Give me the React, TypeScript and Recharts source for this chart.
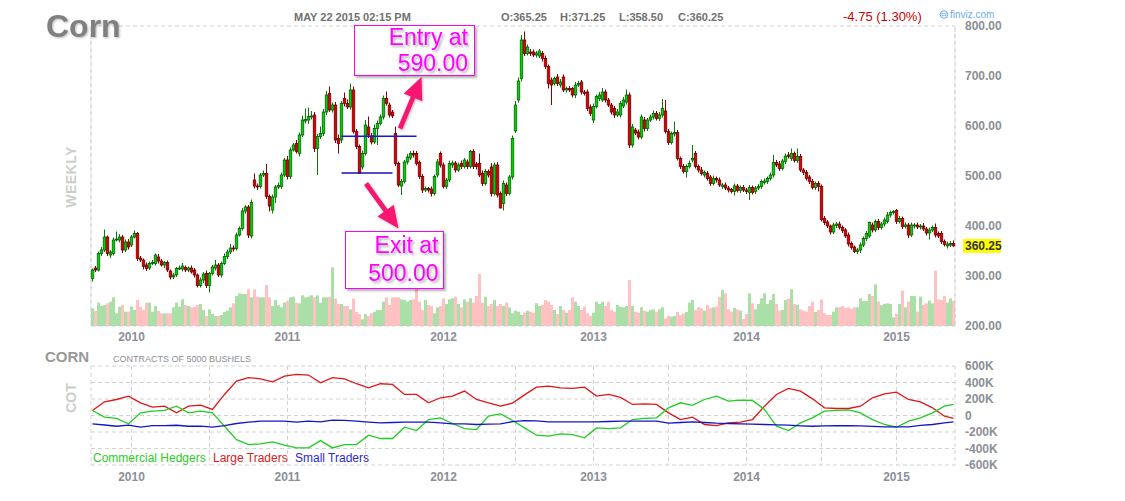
import React from 'react';
import { ComposedChart, Bar, Line, XAxis, YAxis, CartesianGrid, ReferenceLine } from 'recharts';

const FONT = "'Liberation Sans', Arial, sans-serif";

// weekly corn candles, late Sep 2009 .. May 22 2015
const opens = [
  295, 316, 312, 345, 352, 378, 342, 345, 372, 372,
  378, 352, 368, 362, 378, 385, 336, 332, 322, 316,
  325, 325, 338, 330, 322, 327, 310, 298, 302, 315,
  314, 317, 312, 316, 312, 302, 281, 292, 305, 281,
  305, 316, 322, 302, 325, 339, 348, 356, 355, 382,
  395, 430, 438, 380, 492, 480, 479, 502, 505, 459,
  432, 458, 478, 479, 502, 532, 499, 552, 565, 545,
  582, 610, 612, 619, 622, 555, 579, 585, 628, 665,
  632, 642, 575, 572, 655, 645, 638, 672, 589, 559,
  518, 545, 598, 580, 568, 595,
  605, 618, 655, 642, 628, 585, 525, 480, 489, 528,
  536, 545, 545, 527, 499, 472, 475, 474, 465, 502,
  545, 522, 479, 492, 522, 526, 512, 525, 519, 528,
  519, 549, 524, 525, 505, 485, 509, 518, 465, 522,
  465, 445, 482, 465, 498, 590, 652, 695, 772, 745,
  748, 748, 742, 740, 745, 735, 719, 692, 685, 698,
  682, 698, 672, 675, 675, 662, 682, 688, 668, 668,
  638, 612, 639, 655, 652, 668, 652, 642, 635, 622,
  622, 640, 648, 662, 562, 592, 588, 578, 612, 595,
  612, 618, 625, 615, 622,
  630, 589, 567, 584, 587, 535, 519, 509, 519, 532,
  545, 519, 512, 502, 505, 498, 485, 495, 492, 479,
  482, 476, 473, 469, 480, 471, 477, 472, 467, 477,
  469, 476, 479, 487, 489, 495, 502, 527, 524, 515,
  529, 542, 535, 545, 531, 539, 512, 507, 498, 489,
  477, 485, 479, 415, 408, 400, 388, 401, 404, 397,
  392, 382, 365, 358, 349, 352, 362, 375, 380, 402,
  392, 409, 397, 404, 409, 422, 427, 431, 409, 415,
  399, 402, 382, 400, 402, 398, 400, 394, 386, 392,
  397, 385, 385, 369, 360, 362, 365.25,
];

const closes = [
  312, 312, 345, 352, 378, 345, 348, 372, 374, 378,
  352, 368, 358, 378, 385, 335, 332, 319, 315, 325,
  327, 342, 330, 322, 327, 312, 298, 302, 315, 316,
  320, 312, 316, 308, 302, 281, 292, 304, 281, 305,
  318, 322, 302, 325, 339, 348, 356, 355, 382, 395,
  430, 438, 382, 447, 480, 478, 502, 505, 459, 440,
  458, 478, 481, 502, 532, 499, 552, 562, 549, 582,
  612, 613, 619, 620, 555, 579, 585, 628, 662, 632,
  642, 572, 565, 645, 645, 638, 672, 589, 559, 505,
  545, 602, 582, 568, 595, 605,
  618, 655, 645, 622, 620, 525, 482, 489, 528, 538,
  545, 542, 525, 499, 472, 475, 472, 465, 499, 528,
  522, 479, 492, 525, 526, 512, 522, 519, 532, 519,
  549, 519, 519, 502, 485, 509, 502, 465, 522, 462,
  436, 485, 465, 498, 575, 642, 690, 772, 745, 758,
  745, 742, 746, 750, 735, 719, 685, 682, 695, 685,
  688, 672, 675, 672, 662, 682, 685, 668, 665, 635,
  625, 639, 659, 662, 668, 652, 642, 628, 622, 628,
  645, 652, 662, 562, 598, 586, 578, 618, 595, 612,
  618, 625, 615, 622, 635,
  589, 567, 585, 587, 535, 519, 509, 519, 525, 535,
  519, 512, 505, 507, 495, 485, 495, 492, 482, 482,
  476, 472, 469, 480, 471, 477, 472, 469, 477, 467,
  476, 479, 489, 490, 495, 502, 527, 522, 515, 530,
  540, 539, 545, 531, 539, 512, 507, 495, 489, 477,
  485, 479, 413, 407, 400, 388, 402, 404, 397, 391,
  380, 364, 357, 349, 352, 362, 375, 385, 407, 392,
  409, 397, 404, 412, 422, 427, 429, 409, 415, 399,
  402, 382, 402, 402, 398, 400, 394, 386, 392, 397,
  382, 380, 369, 363, 364, 365, 360.25,
];

// wick length above / below the body, in cents
const wickUp = [
  3, 4, 4, 6, 15, 3, 4, 5, 15, 6, 4, 5, 6, 4, 6, 3, 4, 3, 5, 4,
  5, 3, 6, 4, 3, 4, 3, 4, 3, 5, 6, 4, 3, 5, 4, 3, 5, 4, 6, 3,
  4, 10, 4, 4, 6, 5, 8, 5, 5, 4, 6, 4, 4, 6, 13, 5, 4, 6, 19, 4,
  5, 4, 6, 5, 4, 8, 5, 4, 7, 5, 9, 22, 18, 10, 6, 5, 14, 6, 8, 14,
  5, 6, 8, 5, 12, 8, 13, 7, 5, 4, 6, 10, 21, 6, 8, 6,
  5, 6, 14, 5, 4, 14, 4, 5, 4, 6, 5, 6, 5, 4, 5, 4, 3, 5, 4, 6,
  4, 5, 4, 6, 5, 4, 5, 6, 4, 5, 3, 5, 4, 20, 6, 5, 4, 8, 5, 6,
  4, 6, 5, 4, 6, 8, 7, 10, 17, 5, 6, 5, 4, 4, 5, 6, 4, 5, 4, 6,
  6, 5, 4, 5, 3, 6, 5, 4, 4, 5, 5, 6, 4, 6, 8, 5, 4, 4, 5, 6,
  5, 6, 11, 5, 6, 4, 5, 5, 6, 4, 5, 6, 5, 6, 19,
  22, 5, 4, 22, 5, 4, 5, 4, 6, 27, 5, 4, 6, 4, 5, 4, 6, 4, 5, 4,
  5, 4, 3, 5, 4, 4, 5, 4, 5, 4, 4, 5, 4, 5, 4, 5, 15, 5, 6, 4,
  5, 6, 10, 4, 16, 5, 4, 5, 4, 5, 4, 5, 4, 5, 4, 3, 5, 4, 5, 4,
  4, 5, 4, 3, 4, 5, 4, 5, 2, 5, 4, 5, 4, 5, 6, 4, 3, 3, 5, 4,
  5, 4, 5, 4, 5, 4, 6, 4, 5, 4, 8, 4, 5, 4, 5, 5, 6,
];

const wickDown = [
  6, 4, 3, 5, 4, 5, 6, 4, 3, 5, 6, 4, 5, 4, 3, 5, 4, 6, 5, 4,
  3, 4, 5, 3, 6, 4, 5, 4, 4, 3, 5, 4, 4, 3, 5, 4, 4, 6, 5, 14,
  4, 5, 4, 5, 3, 5, 4, 6, 4, 3, 4, 5, 6, 5, 5, 6, 4, 4, 5, 11,
  7, 12, 4, 5, 4, 6, 5, 3, 4, 6, 4, 5, 8, 6, 7, 53, 5, 5, 6, 4,
  5, 6, 20, 6, 6, 4, 5, 4, 5, 1, 5, 4, 6, 5, 4, 33,
  4, 5, 4, 5, 4, 5, 4, 18, 4, 5, 4, 5, 4, 5, 6, 4, 5, 6, 4, 5,
  5, 4, 5, 4, 6, 5, 4, 5, 4, 5, 4, 5, 6, 4, 5, 4, 5, 6, 4, 5,
  1, 14, 5, 4, 5, 4, 5, 6, 5, 4, 5, 4, 5, 4, 6, 5, 10, 40, 4, 5,
  5, 4, 5, 4, 5, 6, 4, 5, 4, 5, 5, 6, 4, 5, 4, 5, 4, 5, 6, 4,
  5, 4, 5, 6, 5, 4, 5, 4, 6, 5, 4, 5, 4, 5, 5,
  4, 5, 4, 5, 4, 5, 4, 12, 4, 5, 4, 5, 4, 5, 4, 5, 4, 5, 4, 5,
  4, 5, 4, 8, 4, 5, 4, 5, 15, 4, 5, 4, 5, 4, 5, 4, 5, 4, 5, 4,
  5, 4, 5, 4, 5, 4, 5, 4, 5, 4, 5, 10, 4, 5, 4, 5, 4, 5, 4, 5,
  4, 5, 4, 3, 5, 6, 4, 5, 4, 5, 4, 5, 4, 5, 4, 5, 4, 5, 4, 5,
  4, 6, 4, 5, 4, 5, 4, 5, 13, 4, 5, 4, 5, 4, 5, 4, 1.75,
];

// weekly volume (relative units)
const volume = [
  53, 45, 70, 60, 63, 68, 73, 86, 38, 58, 63, 43, 43, 58, 48, 78, 58, 48, 70, 70,
  43, 60, 45, 38, 38, 38, 38, 56, 70, 58, 80, 63, 60, 56, 58, 63, 66, 48, 30, 50,
  36, 30, 30, 33, 42, 46, 56, 68, 90, 98, 96, 96, 110, 86, 110, 88, 86, 86, 123, 86,
  60, 78, 62, 56, 70, 76, 86, 88, 70, 68, 92, 86, 88, 92, 86, 92, 70, 86, 86, 88,
  176, 82, 66, 66, 60, 60, 50, 82, 42, 36, 20, 36, 30, 38, 43, 48,
  48, 73, 86, 63, 86, 86, 86, 80, 78, 73, 78, 80, 113, 73, 48, 78, 63, 60, 38, 56,
  60, 83, 66, 80, 83, 88, 66, 56, 80, 73, 83, 70, 90, 156, 70, 88, 60, 66, 78, 60,
  66, 60, 70, 56, 38, 46, 43, 33, 40, 46, 43, 40, 68, 60, 63, 78, 73, 63, 48, 36,
  60, 48, 40, 48, 86, 73, 60, 48, 58, 38, 30, 40, 73, 66, 73, 60, 73, 48, 43, 63,
  58, 56, 60, 138, 60, 43, 40, 56, 46, 43, 48, 50, 43, 50, 56,
  23, 30, 28, 30, 42, 33, 38, 42, 70, 78, 48, 56, 53, 46, 63, 53, 56, 58, 88, 108,
  98, 50, 43, 54, 50, 46, 21, 36, 98, 68, 50, 66, 83, 98, 66, 78, 96, 66, 46, 48,
  78, 82, 110, 66, 63, 50, 46, 43, 60, 73, 42, 48, 80, 38, 33, 33, 43, 56, 56, 60,
  54, 56, 52, 56, 56, 83, 75, 75, 96, 90, 125, 73, 62, 66, 68, 66, 26, 36, 66, 106,
  56, 73, 90, 90, 43, 88, 63, 68, 76, 68, 166, 80, 78, 90, 70, 83, 76,
];

const yearTicks = [13, 65, 117, 167, 218, 268];
const yearLabels = ['2010', '2011', '2012', '2013', '2014', '2015'];
const midYearTicks = [39, 91, 141, 192, 243];
const priceTicks = [200, 300, 400, 500, 600, 700, 800];
const volumeGridTicks = [0, 150, 300, 450, 600, 750, 900];
const cotTicks = [-600, -400, -200, 0, 200, 400, 600];

// COT net positions, thousands of contracts, one sample every 4 weeks (last = final week)
const cotStep = 4;
const largeTraders = [
  61, 166, 194, 235, 154, 101, 113, 32, 113, 125, 73, 255, 417, 458, 445, 409, 478, 498, 490, 397,
  458, 445, 385, 336, 385, 377, 255, 255, 154, 215, 235, 296, 194, 154, 113, 150,
  250, 344, 356, 336, 328, 344, 235, 255, 220, 134, 142, 134, 32, -49, -20, -109, -122, -89, -81, -49,
  113, 255, 328, 296, 202, 93, 85, 85, 113, 215, 263, 283, 194, 166, 93, -8, -36,
];
const commercialHedgers = [
  61, -20, -36, -100, 32, 53, 61, 113, 32, 53, 32, -130, -292, -352, -344, -320, -360, -393, -393, -304,
  -393, -352, -352, -239, -279, -279, -142, -182, -49, -28, -97, -158, -170, -8, 20, -60,
  -150, -239, -251, -223, -231, -270, -150, -158, -150, -49, -36, -28, 93, 154, 122, 194, 235, 174, 186, 182,
  73, -130, -182, -89, -28, 53, 61, 69, 32, -49, -109, -142, -69, -28, 32, 113, 134,
];
const smallTraders = [
  -101, -115, -130, -117, -142, -122, -122, -118, -130, -130, -142, -122, -97, -81, -69, -69, -69, -81, -69, -77,
  -57, -60, -69, -80, -89, -85, -81, -81, -81, -90, -101, -101, -109, -105, -101, -75,
  -61, -65, -77, -77, -77, -77, -77, -73, -69, -69, -69, -69, -93, -85, -77, -85, -93, -97, -101, -105,
  -109, -113, -117, -125, -130, -126, -122, -124, -126, -132, -138, -138, -138, -120, -109, -90, -77,
];

const lastClose = 360.25;
const entryLevel = 579.5;
const exitLevel = 506;
const entryWeeks = [83, 108];
const exitWeeks = [83, 100];

const N = closes.length;

const candles = closes.map((c, i) => {
  const o = opens[i];
  const h = Math.max(o, c) + wickUp[i];
  const l = Math.min(o, c) - wickDown[i];
  return { i, o, c, h, l, range: [l, h], vol: volume[i], up: c >= o };
});

const cotRows = largeTraders.map((v, k) => ({
  w: k < largeTraders.length - 1 ? k * cotStep : N - 1,
  large: v,
  commercial: commercialHedgers[k],
  small: smallTraders[k],
}));

const gridWeeks = [...yearTicks, ...midYearTicks].sort((a, b) => a - b);
const cotXTicks = [-0.5, ...gridWeeks, N - 0.5];

const yearFmt = (v: number) => {
  const k = yearTicks.indexOf(v);
  return k >= 0 ? yearLabels[k] : '';
};

const axisTick = { fontSize: 12, fontWeight: 700, fill: '#8b8f96', fontFamily: FONT };
const GRID = '#d2d2d2';

function Candle(props: any) {
  const { x, y, width, height, payload } = props;
  if (!payload) return null;
  const top = Math.min(y, y + height);
  const span = Math.abs(height);
  const { o, c, h, l } = payload;
  const k = h > l ? span / (h - l) : 0;
  const yo = top + (h - o) * k;
  const yc = top + (h - c) * k;
  const cx = x + width / 2;
  const up = c >= o;
  const bodyTop = Math.min(yo, yc);
  const bodyH = Math.max(Math.abs(yo - yc), 1);
  return (
    <g>
      <line x1={cx} x2={cx} y1={top} y2={top + span} stroke={up ? '#0b7a0b' : '#8a0000'} strokeWidth={1} />
      <rect
        x={cx - 1.3}
        y={bodyTop}
        width={2.6}
        height={bodyH}
        fill={up ? '#00d400' : '#e00000'}
        stroke={up ? '#0a4f0a' : '#5a0000'}
        strokeWidth={0.7}
      />
    </g>
  );
}

function VolumeBar(props: any) {
  const { x, y, width, height, payload } = props;
  if (!payload) return null;
  return <rect x={x} y={y} width={width} height={Math.max(height, 0)} fill={payload.up ? '#aadfa7' : '#ffc1c1'} />;
}

function LastPriceTag(props: any) {
  const vb = props.viewBox;
  if (!vb) return null;
  const xx = vb.x + vb.width;
  return (
    <g>
      <rect x={xx + 8} y={vb.y - 7} width={38} height={14} fill="#ffff00" />
      <text x={xx + 10} y={vb.y + 4.5} fontSize={12} fontWeight={700} fill="#333" fontFamily={FONT}>
        {lastClose.toFixed(2)}
      </text>
    </g>
  );
}

function arrowPoints(x1: number, y1: number, x2: number, y2: number) {
  const shaft = 2.4;
  const headLen = 22;
  const headHalf = 10;
  const dx = x2 - x1;
  const dy = y2 - y1;
  const len = Math.hypot(dx, dy);
  const ux = dx / len;
  const uy = dy / len;
  const px = -uy;
  const py = ux;
  const bx = x2 - ux * headLen;
  const by = y2 - uy * headLen;
  const pts = [
    [x1 + px * shaft, y1 + py * shaft],
    [bx + px * shaft, by + py * shaft],
    [bx + px * headHalf, by + py * headHalf],
    [x2, y2],
    [bx - px * headHalf, by - py * headHalf],
    [bx - px * shaft, by - py * shaft],
    [x1 - px * shaft, y1 - py * shaft],
  ];
  return pts.map((p) => p.join(',')).join(' ');
}

const layer: React.CSSProperties = { position: 'absolute', left: 0, top: 0 };

export default function App() {
  return (
    <div style={{ position: 'absolute', left: 0, top: 0, width: 1125, height: 501, background: '#fff', overflow: 'hidden' }}>
      {/* grid + volume (bottom layer) */}
      <div style={layer}>
        <ComposedChart width={1125} height={345} data={candles} margin={{ top: 26, right: 110, bottom: 0, left: 91 }} barCategoryGap={0} barGap={0}>
          <CartesianGrid stroke={GRID} strokeDasharray="4 3" />
          <XAxis dataKey="i" ticks={gridWeeks} interval={0} tick={false} tickLine={false} axisLine={false} height={19} />
          <YAxis orientation="right" domain={[0, 900]} ticks={volumeGridTicks} interval={0} tick={false} tickLine={false} axisLine={false} width={60} />
          <ReferenceLine x={0} position="start" stroke={GRID} strokeDasharray="4 3" />
          <ReferenceLine x={N - 1} position="end" stroke={GRID} strokeDasharray="4 3" />
          <Bar dataKey="vol" shape={(p: any) => <VolumeBar {...p} />} isAnimationActive={false} />
        </ComposedChart>
      </div>

      {/* price candles */}
      <div style={layer}>
        <ComposedChart width={1125} height={345} data={candles} margin={{ top: 26, right: 110, bottom: 0, left: 91 }} barCategoryGap={0} barGap={0}>
          <XAxis dataKey="i" ticks={yearTicks} interval={0} tickFormatter={yearFmt} tickLine={false} axisLine={false} tickSize={0} tickMargin={6} height={19} tick={axisTick} />
          <YAxis orientation="right" domain={[200, 800]} ticks={priceTicks} interval={0} allowDataOverflow tickFormatter={(v: number) => v.toFixed(2)} tickLine={false} axisLine={false} tickSize={0} tickMargin={10} width={60} tick={axisTick} />
          <Bar dataKey="range" shape={(p: any) => <Candle {...p} />} isAnimationActive={false} />
          <ReferenceLine segment={[{ x: entryWeeks[0], y: entryLevel }, { x: entryWeeks[1], y: entryLevel }]} stroke="#1414e8" strokeWidth={1.3} />
          <ReferenceLine segment={[{ x: exitWeeks[0], y: exitLevel }, { x: exitWeeks[1], y: exitLevel }]} stroke="#1414b0" strokeWidth={1.3} />
          <ReferenceLine y={lastClose} stroke="none" label={(p: any) => <LastPriceTag {...p} />} />
        </ComposedChart>
      </div>

      {/* COT panel */}
      <div style={{ ...layer, top: 345 }}>
        <ComposedChart width={1125} height={150} data={cotRows} margin={{ top: 21, right: 110, bottom: 0, left: 91 }}>
          <CartesianGrid stroke={GRID} strokeDasharray="4 3" />
          <XAxis type="number" dataKey="w" domain={[-0.5, N - 0.5]} ticks={cotXTicks} interval={0} tickFormatter={yearFmt} tickLine={false} axisLine={false} tickSize={0} tickMargin={7} height={30} tick={axisTick} />
          <YAxis orientation="right" domain={[-600, 600]} ticks={cotTicks} interval={0} tickFormatter={(v: number) => (v === 0 ? '0' : `${v}K`)} tickLine={false} axisLine={false} tickSize={0} tickMargin={10} width={60} tick={axisTick} />
          <Line dataKey="large" stroke="#dd1616" strokeWidth={1.3} dot={false} isAnimationActive={false} />
          <Line dataKey="commercial" stroke="#22cc22" strokeWidth={1.3} dot={false} isAnimationActive={false} />
          <Line dataKey="small" stroke="#1414c8" strokeWidth={1.3} dot={false} isAnimationActive={false} />
        </ComposedChart>
      </div>

      {/* titles and annotations */}
      <svg width={1125} height={501} style={layer} fontFamily={FONT}>
        <defs>
          <filter id="shadow" x="-20%" y="-20%" width="140%" height="140%">
            <feDropShadow dx="2" dy="2" stdDeviation="1.2" floodColor="#000" floodOpacity="0.3" />
          </filter>
          <filter id="soft" x="-20%" y="-20%" width="140%" height="140%">
            <feDropShadow dx="1" dy="1" stdDeviation="0.8" floodColor="#334" floodOpacity="0.35" />
          </filter>
        </defs>

        <text x={46} y={37} fontSize={32} fontWeight={700} fill="#808080" filter="url(#soft)">Corn</text>
        <text x={294} y={21} fontSize={11} fontWeight={700} fill="#707070">MAY 22 2015 02:15 PM</text>
        <text x={501} y={21} fontSize={11} fontWeight={700} fill="#707070">O:365.25</text>
        <text x={560} y={21} fontSize={11} fontWeight={700} fill="#707070">H:371.25</text>
        <text x={619} y={21} fontSize={11} fontWeight={700} fill="#707070">L:358.50</text>
        <text x={678} y={21} fontSize={11} fontWeight={700} fill="#707070">C:360.25</text>
        <text x={843} y={21} fontSize={13} fill="#cc0000">-4.75 (1.30%)</text>
        <circle cx={944} cy={14.5} r={3.8} fill="none" stroke="#6aaee8" strokeWidth={1} />
        <rect x={942} y={13.2} width={4} height={2.6} fill="none" stroke="#6aaee8" strokeWidth={0.8} />
        <text x={950} y={18} fontSize={10} fill="#6aaee8">finviz.com</text>

        <text x={76} y={177} fontSize={14} fontWeight={700} fill="#cdcdcd" textAnchor="middle" transform="rotate(-90 76 177)" letterSpacing={0.5}>WEEKLY</text>
        <text x={76} y={398} fontSize={14} fontWeight={700} fill="#cdcdcd" textAnchor="middle" transform="rotate(-90 76 398)">COT</text>

        <text x={45} y={362} fontSize={15} fontWeight={700} fill="#999">CORN</text>
        <text x={113} y={361.5} fontSize={9} fill="#8c9098">CONTRACTS OF 5000 BUSHELS</text>

        <text x={93} y={462} fontSize={12} fill="#2bcb2b">Commercial Hedgers</text>
        <text x={213} y={462} fontSize={12} fill="#d82020">Large Traders</text>
        <text x={295} y={462} fontSize={12} fill="#2a2acc">Small Traders</text>

        {/* entry note */}
        <rect x={354.5} y={25.5} width={120} height={50} fill="#fff" stroke="#ff00ff" strokeWidth={1} filter="url(#shadow)" />
        <text x={468} y={45} fontSize={23} fill="#ff00ff" textAnchor="end" filter="url(#shadow)">Entry at</text>
        <text x={468} y={71} fontSize={23} fill="#ff00ff" textAnchor="end" filter="url(#shadow)">590.00</text>
        <polygon points={arrowPoints(400, 128.5, 421.5, 77)} fill="#f7146f" filter="url(#soft)" />

        {/* exit note */}
        <rect x={345.5} y={231.5} width={98} height={57} fill="#fff" stroke="#ff00ff" strokeWidth={1} filter="url(#shadow)" />
        <text x={438.5} y={252.5} fontSize={23} fill="#ff00ff" textAnchor="end" filter="url(#shadow)">Exit at</text>
        <text x={438.5} y={281} fontSize={23} fill="#ff00ff" textAnchor="end" filter="url(#shadow)">500.00</text>
        <polygon points={arrowPoints(366, 183.5, 398.5, 228.5)} fill="#f7146f" filter="url(#soft)" />
      </svg>
    </div>
  );
}
